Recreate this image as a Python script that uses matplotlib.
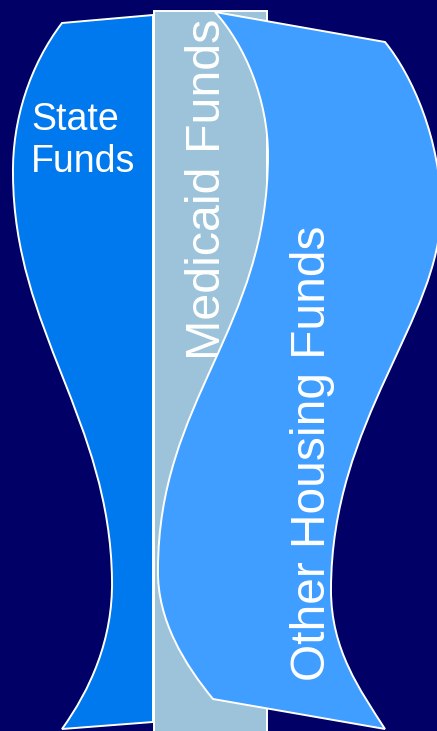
import matplotlib
matplotlib.use('Agg')
import matplotlib.pyplot as plt
from matplotlib.path import Path
from matplotlib.patches import PathPatch, Rectangle

# labels of the three funding blocks
labels = ['State\nFunds', 'Medicaid Funds', 'Other Housing Funds']

# outline of the "State Funds" shape (pixel coords, y down)
state_verts = [(153, 15), (62, 23),
               (30, 65), (12, 120), (13, 175),
               (14, 330), (110, 420), (112, 580),
               (113, 640), (90, 690), (62, 729),
               (153, 722), (153, 15)]
state_codes = [Path.MOVETO, Path.LINETO] + [Path.CURVE4] * 9 + [Path.LINETO, Path.CLOSEPOLY]

# medicaid column: x, y, width, height
medicaid_box = (154, 11, 113, 722)

# outline of the "Other Housing Funds" shape
other_verts = [(215, 12), (385, 42),
               (412, 75), (441, 140), (441, 210),
               (441, 320), (331, 420), (331, 590),
               (331, 650), (360, 690), (385, 729),
               (213, 699),
               (185, 665), (157, 620), (158, 570),
               (158, 400), (268, 330), (268, 155),
               (268, 100), (245, 45), (215, 12),
               (215, 12)]
other_codes = [Path.MOVETO, Path.LINETO] + [Path.CURVE4] * 9 + [Path.LINETO] + [Path.CURVE4] * 9 + [Path.CLOSEPOLY]

bg = '#000066'
fig = plt.figure(figsize=(4.37, 7.31), dpi=100)
fig.patch.set_facecolor(bg)
ax = fig.add_axes([0, 0, 1, 1])
ax.set_facecolor(bg)
ax.set_xlim(0, 437)
ax.set_ylim(731, 0)
ax.axis('off')

ax.add_patch(PathPatch(Path(state_verts, state_codes), facecolor='#0078EE',
                       edgecolor='white', lw=1.4, zorder=1))
x0, y0, w, h = medicaid_box
ax.add_patch(Rectangle((x0, y0), w, h, facecolor='#9CC3D9',
                       edgecolor='white', lw=1.4, zorder=2))
ax.add_patch(PathPatch(Path(other_verts, other_codes), facecolor='#3F9EFF',
                       edgecolor='white', lw=1.4, zorder=4))

font = 'Liberation Sans'
ax.text(31, 172, labels[0], color='white', fontsize=27, family=font,
        ha='left', va='baseline', linespacing=1.2, zorder=5)
ax.text(220, 360, labels[1], color='white', fontsize=34.8, family=font,
        rotation=90, rotation_mode='anchor', ha='left', va='baseline', zorder=3)
ax.text(325, 681, labels[2], color='white', fontsize=34.5, family=font,
        rotation=90, rotation_mode='anchor', ha='left', va='baseline', zorder=5)

fig.savefig('out.png', dpi=100, facecolor=bg)
